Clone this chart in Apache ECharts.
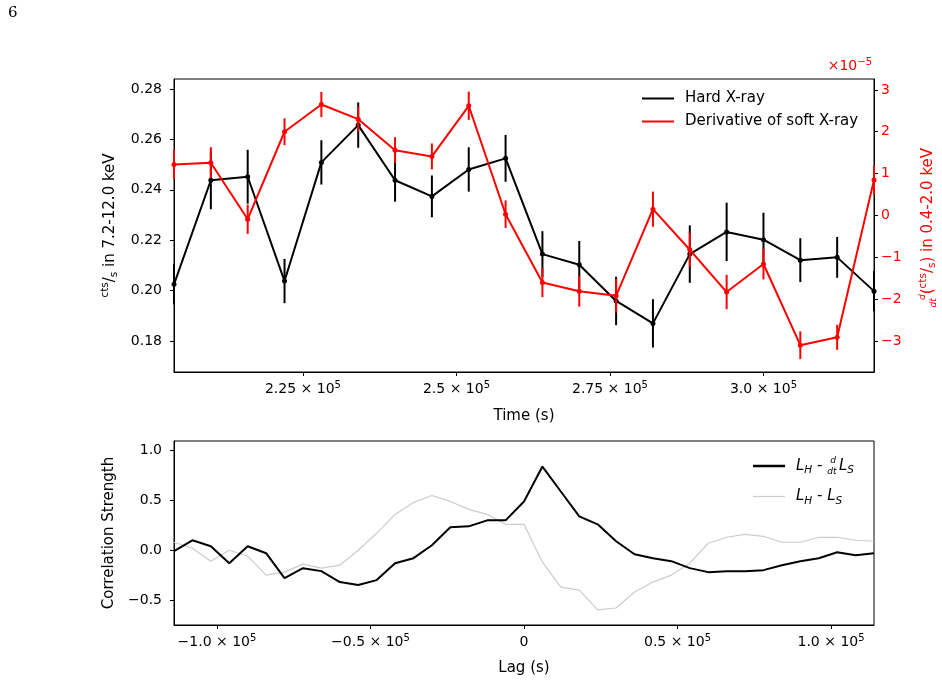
<!DOCTYPE html>
<html>
<head>
<meta charset="utf-8">
<title>Hard X-ray vs derivative of soft X-ray</title>
<script src="https://cdn.jsdelivr.net/npm/echarts@6/dist/echarts.min.js"></script>
<style>
  html, body { margin: 0; padding: 0; background: #fff; }
  #main { width: 942px; height: 683px; }
</style>
</head>
<body>
<div id="main"></div>
<script>
// light curve bins (s)
const timeBins = [204000, 210000, 216000, 222000, 228000, 234000, 240000, 246000, 252000, 258000,
  264000, 270000, 276000, 282000, 288000, 294000, 300000, 306000, 312000, 318000];
// hard band rate (cts/s) and 1-sigma errors
const hardRate = [0.2025, 0.2438, 0.2452, 0.2038, 0.2509, 0.2657, 0.2438, 0.2374, 0.2481, 0.2525,
  0.2145, 0.2103, 0.1959, 0.1870, 0.2145, 0.2233, 0.2202, 0.2121, 0.2132, 0.1998];
const hardErr = [0.008, 0.0115, 0.0107, 0.0088, 0.0088, 0.009, 0.0085, 0.0083, 0.0088, 0.0093,
  0.0091, 0.0094, 0.0096, 0.0096, 0.0114, 0.0116, 0.0107, 0.0087, 0.0081, 0.008];
// d/dt of soft rate, in units of 1e-5
const softDeriv = [1.22, 1.26, -0.09, 2.00, 2.65, 2.30, 1.56, 1.41, 2.62, 0.03,
  -1.60, -1.81, -1.92, 0.15, -0.82, -1.83, -1.16, -3.10, -2.91, 0.85];
const softDerivErr = [0.35, 0.37, 0.35, 0.32, 0.30, 0.30, 0.31, 0.31, 0.34, 0.33,
  0.35, 0.37, 0.40, 0.42, 0.41, 0.41, 0.37, 0.33, 0.30, 0.35];

// cross correlation
const lags = [-114000, -108000, -102000, -96000, -90000, -84000, -78000, -72000, -66000, -60000,
  -54000, -48000, -42000, -36000, -30000, -24000, -18000, -12000, -6000, 0,
  6000, 12000, 18000, 24000, 30000, 36000, 42000, 48000, 54000, 60000,
  66000, 72000, 78000, 84000, 90000, 96000, 102000, 108000, 114000];
const corrDeriv = [-0.01, 0.10, 0.04, -0.13, 0.04, -0.03, -0.28, -0.18, -0.21, -0.32,
  -0.35, -0.30, -0.13, -0.08, 0.05, 0.23, 0.24, 0.30, 0.30, 0.49,
  0.84, 0.59, 0.34, 0.26, 0.09, -0.04, -0.08, -0.11, -0.18, -0.22,
  -0.21, -0.21, -0.20, -0.15, -0.11, -0.08, -0.02, -0.05, -0.03];
const corrSoft = [0.08, 0.02, -0.11, 0.00, -0.06, -0.25, -0.22, -0.14, -0.18, -0.15,
  0.00, 0.17, 0.36, 0.48, 0.55, 0.49, 0.41, 0.36, 0.26, 0.26,
  -0.12, -0.37, -0.40, -0.60, -0.58, -0.42, -0.32, -0.25, -0.13, 0.07,
  0.13, 0.16, 0.14, 0.08, 0.08, 0.13, 0.13, 0.10, 0.09];

// tick labels
const timeTicks = [225000, 250000, 275000, 300000];
const lagTicks = [-100000, -50000, 0, 50000, 100000];
const rateTicks = [0.18, 0.20, 0.22, 0.24, 0.26, 0.28];
const derivTicks = [-3, -2, -1, 0, 1, 2, 3];
const corrTicks = [-0.5, 0, 0.5, 1.0];

const FONT = 'DejaVu Sans';
const RED = '#ff0000';
const minus = s => s.replace('-', '\u2212');

// rich styles for the math-ish labels
const mathRich = {
  n: { fontSize: 15, lineHeight: 20, fontFamily: FONT },
  i: { fontSize: 15, lineHeight: 20, fontFamily: FONT, fontStyle: 'italic' },
  sup: { fontSize: 10.5, lineHeight: 10, fontFamily: FONT, verticalAlign: 'top' },
  sub: { fontSize: 10.5, lineHeight: 10, fontFamily: FONT, verticalAlign: 'bottom' },
  isub: { fontSize: 10.5, lineHeight: 10, fontFamily: FONT, fontStyle: 'italic', verticalAlign: 'bottom' },
  fd: { fontSize: 9, lineHeight: 9, fontFamily: FONT, fontStyle: 'italic', verticalAlign: 'bottom', width: 0.5 },
  fn: { fontSize: 9, lineHeight: 9, fontFamily: FONT, fontStyle: 'italic', verticalAlign: 'top', padding: [0, 0, 0, 2.5] },
  sp: { width: 3 }
};
const tickRich = {
  n: { fontSize: 14, lineHeight: 18, fontFamily: FONT },
  sup: { fontSize: 10, lineHeight: 10, fontFamily: FONT, verticalAlign: 'top' }
};

function sciLabel(v) {
  if (v === 0) return '{n|0}';
  const m = v / 1e5;
  const s = Number.isInteger(m) ? m.toFixed(1) : String(m);
  return '{n|' + minus(s) + ' \u00d7 10}{sup|5}';
}

function errorBars(color) {
  return function (params, api) {
    const x = api.value(0), y = api.value(1), e = api.value(2);
    const lo = api.coord([x, y - e]);
    const hi = api.coord([x, y + e]);
    return {
      type: 'line',
      shape: { x1: lo[0], y1: lo[1], x2: hi[0], y2: hi[1] },
      style: { stroke: color, lineWidth: 2 }
    };
  };
}

const blackAxis = { show: true, onZero: false, lineStyle: { color: '#000', width: 1 } };
const blackTick = { length: 4, lineStyle: { color: '#000' } };

const chart = echarts.init(document.getElementById('main'));
chart.setOption({
  animation: false,
  backgroundColor: '#fff',
  textStyle: { fontFamily: FONT },
  grid: [
    { left: 174, top: 79, width: 700, height: 293, show: true, borderColor: '#000', borderWidth: 1, outerBoundsMode: 'none', containLabel: false },
    { left: 174, top: 441, width: 700, height: 184, show: true, borderColor: '#000', borderWidth: 1, outerBoundsMode: 'none', containLabel: false }
  ],
  xAxis: [
    {
      type: 'value', gridIndex: 0, min: 204000, max: 318000,
      name: 'Time (s)', nameLocation: 'middle', nameGap: 37,
      nameTextStyle: { color: '#000', fontSize: 15 },
      axisLine: blackAxis,
      axisTick: Object.assign({ customValues: timeTicks }, blackTick),
      axisLabel: { customValues: timeTicks, formatter: sciLabel, rich: tickRich, color: '#000', margin: 8 },
      splitLine: { show: false }
    },
    {
      type: 'value', gridIndex: 1, min: -114000, max: 114000,
      name: 'Lag (s)', nameLocation: 'middle', nameGap: 36,
      nameTextStyle: { color: '#000', fontSize: 15 },
      axisLine: blackAxis,
      axisTick: Object.assign({ customValues: lagTicks }, blackTick),
      axisLabel: { customValues: lagTicks, formatter: sciLabel, rich: tickRich, color: '#000', margin: 8 },
      splitLine: { show: false }
    }
  ],
  yAxis: [
    {
      type: 'value', gridIndex: 0, min: 0.1677, max: 0.284,
      name: '{sup|cts}{n|/}{sub|s}{n| in 7.2-12.0 keV}', nameLocation: 'middle', nameGap: 47,
      nameTextStyle: { color: '#000', rich: mathRich },
      axisLine: blackAxis,
      axisTick: Object.assign({ customValues: rateTicks }, blackTick),
      axisLabel: { customValues: rateTicks, formatter: v => v.toFixed(2), color: '#000', fontSize: 14, margin: 12 },
      splitLine: { show: false }
    },
    {
      type: 'value', gridIndex: 0, position: 'right', min: -3.74, max: 3.26,
      name: '{fd|dt}{fn|d}{n|(}{sup|cts}{n|/}{sub|s}{n|) in 0.4-2.0 keV}',
      nameLocation: 'middle', nameGap: 44,
      nameTextStyle: { color: RED, rich: mathRich },
      axisLine: blackAxis,
      axisTick: Object.assign({ customValues: derivTicks }, blackTick),
      axisLabel: { customValues: derivTicks, formatter: v => minus(String(v)), color: RED, fontSize: 14, margin: 7 },
      splitLine: { show: false }
    },
    {
      type: 'value', gridIndex: 1, min: -0.751, max: 1.097,
      name: 'Correlation Strength', nameLocation: 'middle', nameGap: 53,
      nameTextStyle: { color: '#000', fontSize: 15 },
      axisLine: blackAxis,
      axisTick: Object.assign({ customValues: corrTicks }, blackTick),
      axisLabel: { customValues: corrTicks, formatter: v => minus(v.toFixed(1)), color: '#000', fontSize: 14, margin: 12 },
      splitLine: { show: false }
    }
  ],
  legend: [
    {
      data: ['Hard X-ray', 'Derivative of soft X-ray'],
      orient: 'vertical', left: 642, top: 91, itemGap: 8, padding: 0,
      icon: 'rect', itemWidth: 32, itemHeight: 2,
      textStyle: { color: '#000', fontSize: 15, padding: [0, 0, 0, 6] }
    },
    {
      data: [
        { name: 'LH - d/dt LS', icon: 'path://M0,-2L0,-2M0,-1.25h32v2.5h-32zM0,2L0,2' },
        { name: 'LH - LS', icon: 'path://M0,-2L0,-2M0,-0.6h32v1.2h-32zM0,2L0,2' }
      ],
      orient: 'vertical', left: 753, top: 456, itemGap: 13, padding: 0,
      itemWidth: 32, itemHeight: 4,
      formatter: function (name) {
        if (name === 'LH - LS') return '{i|L}{isub|H}{n| - }{i|L}{isub|S}';
        return '{i|L}{isub|H}{n| - }{fd|dt}{fn|d}{sp|}{i|L}{isub|S}';
      },
      textStyle: { color: '#000', rich: mathRich, padding: [0, 0, 0, 6] }
    }
  ],
  graphic: [
    { type: 'text', left: 8, top: 6, style: { text: '6', fill: '#000', font: '15px "DejaVu Serif"' } },
    {
      type: 'text', right: 70, top: 57,
      style: { text: '{n|\u00d710}{sup|\u22125}', fill: RED, rich: tickRich }
    }
  ],
  series: [
    {
      name: 'Hard X-ray', type: 'line', xAxisIndex: 0, yAxisIndex: 0,
      data: timeBins.map((t, i) => [t, hardRate[i]]),
      color: '#000', lineStyle: { width: 2 }, symbol: 'circle', symbolSize: 5, z: 2
    },
    {
      name: 'hard err', type: 'custom', xAxisIndex: 0, yAxisIndex: 0,
      data: timeBins.map((t, i) => [t, hardRate[i], hardErr[i]]),
      encode: { x: 0, y: 1 }, renderItem: errorBars('#000'), z: 2
    },
    {
      name: 'Derivative of soft X-ray', type: 'line', xAxisIndex: 0, yAxisIndex: 1,
      data: timeBins.map((t, i) => [t, softDeriv[i]]),
      color: RED, lineStyle: { width: 2 }, symbol: 'circle', symbolSize: 5, z: 3
    },
    {
      name: 'soft err', type: 'custom', xAxisIndex: 0, yAxisIndex: 1,
      data: timeBins.map((t, i) => [t, softDeriv[i], softDerivErr[i]]),
      encode: { x: 0, y: 1 }, renderItem: errorBars(RED), z: 3
    },
    {
      name: 'LH - LS', type: 'line', xAxisIndex: 1, yAxisIndex: 2,
      data: lags.map((l, i) => [l, corrSoft[i]]),
      color: '#cccccc', lineStyle: { width: 1.2 }, symbol: 'none', z: 2
    },
    {
      name: 'LH - d/dt LS', type: 'line', xAxisIndex: 1, yAxisIndex: 2,
      data: lags.map((l, i) => [l, corrDeriv[i]]),
      color: '#000', lineStyle: { width: 2 }, symbol: 'none', z: 3
    }
  ]
});
</script>
</body>
</html>
